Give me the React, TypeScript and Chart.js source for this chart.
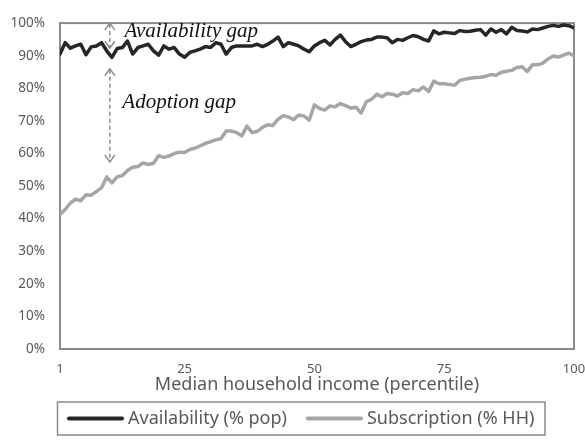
import React, { useEffect, useRef } from "react";
import { Chart, registerables } from "chart.js";

Chart.register(...registerables);

// ---- data ----
const percentiles = [
  1, 2, 3, 4, 5, 6, 7, 8, 9, 10, 11, 12, 13, 14, 15, 16, 17, 18, 19, 20,
  21, 22, 23, 24, 25, 26, 27, 28, 29, 30, 31, 32, 33, 34, 35, 36, 37, 38, 39, 40,
  41, 42, 43, 44, 45, 46, 47, 48, 49, 50, 51, 52, 53, 54, 55, 56, 57, 58, 59, 60,
  61, 62, 63, 64, 65, 66, 67, 68, 69, 70, 71, 72, 73, 74, 75, 76, 77, 78, 79, 80,
  81, 82, 83, 84, 85, 86, 87, 88, 89, 90, 91, 92, 93, 94, 95, 96, 97, 98, 99, 100,
];

const availability = [
  90.5, 94.0, 92.3, 93.0, 93.5, 90.3, 92.7, 93.0, 94.0, 91.5,
  89.5, 92.2, 92.5, 94.5, 90.5, 92.5, 93.0, 93.5, 91.5, 90.2,
  93.0, 92.0, 92.5, 90.5, 89.5, 91.0, 91.5, 92.0, 92.8, 92.5,
  94.0, 93.5, 90.5, 92.5, 93.0, 93.0, 93.0, 93.0, 93.5, 92.8,
  93.5, 94.5, 95.7, 92.8, 94.0, 93.5, 93.0, 92.0, 91.2, 93.0,
  94.0, 94.7, 93.3, 95.0, 96.3, 94.3, 92.8, 93.5, 94.3, 94.8,
  95.0, 95.7, 95.7, 95.5, 94.0, 95.0, 94.7, 95.5, 96.2, 95.8,
  95.0, 94.5, 97.6, 96.7, 97.2, 97.0, 96.8, 97.7, 97.4, 97.5,
  97.8, 98.0, 96.3, 98.2, 97.2, 98.0, 96.7, 98.7, 97.7, 97.6,
  97.3, 98.2, 98.0, 98.5, 99.0, 99.3, 99.0, 99.4, 99.2, 98.5,
];

const subscription = [
  41.3, 42.8, 44.8, 46.0, 45.5, 47.3, 47.2, 48.3, 49.5, 52.8,
  51.0, 52.8, 53.2, 54.8, 55.8, 56.0, 57.1, 56.6, 57.0, 59.3,
  58.8, 59.2, 60.0, 60.4, 60.3, 61.2, 61.6, 62.3, 63.1, 63.6,
  64.2, 64.5, 66.9, 66.9, 66.4, 65.4, 68.4, 66.4, 66.8, 68.0,
  68.8, 68.6, 70.5, 71.6, 71.2, 70.4, 71.8, 71.5, 70.2, 74.9,
  73.8, 73.3, 74.6, 74.3, 75.3, 74.7, 73.9, 74.2, 72.4, 75.9,
  76.6, 78.2, 77.4, 78.4, 78.2, 77.6, 78.6, 78.4, 79.6, 79.2,
  80.4, 79.0, 82.2, 81.4, 81.4, 81.2, 80.9, 82.4, 82.8, 83.1,
  83.3, 83.4, 83.7, 84.2, 84.0, 84.9, 85.2, 85.5, 86.4, 86.6,
  85.2, 87.2, 87.2, 87.7, 89.0, 89.9, 89.6, 90.2, 90.8, 89.9,
];

const seriesLabels = ["Availability (% pop)", "Subscription (% HH)"];
const seriesColors = ["#262626", "#a6a6a6"];
const xTickValues = [1, 25, 50, 75, 100];
const xTitle = "Median household income (percentile)";
const gapLabels = ["Availability gap", "Adoption gap"];

// annotation anchors in data units
const gapArrowX = 10.6;
const availabilityArrow = [100, 92.3];
const adoptionArrow = [86, 57.4];
const availabilityTextAt = { x: 13.4, y: 97.3 };
const adoptionTextAt = { x: 13.0, y: 75.6 };

const SANS = '"Noto Sans", "Open Sans", sans-serif';
const TEXT_GRAY = "#595959";
const FRAME_GRAY = "#8a8a8a";

const framePlugin = {
  id: "frame",
  beforeDatasetsDraw(chart: any) {
    const { ctx, chartArea: a } = chart;
    ctx.save();
    ctx.strokeStyle = FRAME_GRAY;
    ctx.lineWidth = 2;
    ctx.strokeRect(a.left, a.top, a.right - a.left, a.bottom - a.top);
    ctx.restore();
  },
};

function drawArrow(ctx: CanvasRenderingContext2D, x: number, y1: number, y2: number) {
  ctx.save();
  ctx.strokeStyle = "#8c8c8c";
  ctx.lineWidth = 1.5;
  ctx.setLineDash([4, 3]);
  ctx.beginPath();
  ctx.moveTo(x, y1 + 1);
  ctx.lineTo(x, y2 - 1);
  ctx.stroke();
  ctx.setLineDash([]);
  const hw = 5;
  const hl = 7;
  ctx.beginPath();
  ctx.moveTo(x - hw, y1 + hl);
  ctx.lineTo(x, y1);
  ctx.lineTo(x + hw, y1 + hl);
  ctx.moveTo(x - hw, y2 - hl);
  ctx.lineTo(x, y2);
  ctx.lineTo(x + hw, y2 - hl);
  ctx.stroke();
  ctx.restore();
}

const annotationPlugin = {
  id: "gaps",
  afterDatasetsDraw(chart: any) {
    const { ctx, scales } = chart;
    const xs = scales.x;
    const ys = scales.y;
    const ax = xs.getPixelForValue(gapArrowX);
    drawArrow(ctx, ax, ys.getPixelForValue(availabilityArrow[0]), ys.getPixelForValue(availabilityArrow[1]));
    drawArrow(ctx, ax, ys.getPixelForValue(adoptionArrow[0]), ys.getPixelForValue(adoptionArrow[1]));
    ctx.save();
    ctx.fillStyle = "#111111";
    ctx.font = 'italic 21px "Liberation Serif", "DejaVu Serif", serif';
    ctx.textAlign = "left";
    ctx.textBaseline = "middle";
    ctx.fillText(gapLabels[0], xs.getPixelForValue(availabilityTextAt.x), ys.getPixelForValue(availabilityTextAt.y));
    ctx.fillText(gapLabels[1], xs.getPixelForValue(adoptionTextAt.x), ys.getPixelForValue(adoptionTextAt.y));
    ctx.restore();
  },
};

const legendPlugin = {
  id: "boxedLegend",
  afterDraw(chart: any) {
    const { ctx } = chart;
    const ds = chart.data.datasets;
    const boxLeft = 57.5;
    const boxRight = 545;
    const boxTop = 402;
    const boxBottom = 435;
    const cy = (boxTop + boxBottom) / 2;
    ctx.save();
    ctx.strokeStyle = FRAME_GRAY;
    ctx.lineWidth = 1.5;
    ctx.strokeRect(boxLeft, boxTop, boxRight - boxLeft, boxBottom - boxTop);
    ctx.font = `18px ${SANS}`;
    ctx.textBaseline = "middle";
    ctx.textAlign = "left";
    let x = 69;
    ds.forEach((d: any) => {
      ctx.strokeStyle = d.borderColor;
      ctx.lineWidth = 4;
      ctx.lineCap = "round";
      ctx.beginPath();
      ctx.moveTo(x, cy);
      ctx.lineTo(x + 53, cy);
      ctx.stroke();
      ctx.fillStyle = TEXT_GRAY;
      ctx.fillText(d.label, x + 59, cy);
      x = x + 59 + ctx.measureText(d.label).width + 21;
    });
    ctx.restore();
  },
};

export default function App() {
  const ref = useRef<HTMLCanvasElement>(null);
  useEffect(() => {
    const canvas = ref.current;
    if (!canvas) return;
    const mk = (vals: number[]) => percentiles.map((p, i) => ({ x: p, y: vals[i] }));
    const chart = new Chart(canvas, {
      type: "line",
      data: {
        datasets: [
          {
            label: seriesLabels[0],
            data: mk(availability),
            borderColor: seriesColors[0],
            backgroundColor: seriesColors[0],
            borderWidth: 3.5,
            pointRadius: 0,
            tension: 0,
            borderJoinStyle: "round",
            borderCapStyle: "round",
          },
          {
            label: seriesLabels[1],
            data: mk(subscription),
            borderColor: seriesColors[1],
            backgroundColor: seriesColors[1],
            borderWidth: 3.5,
            pointRadius: 0,
            tension: 0,
            borderJoinStyle: "round",
            borderCapStyle: "round",
          },
        ],
      } as any,
      options: {
        responsive: false,
        animation: false,
        layout: { padding: { top: 17, right: 0, bottom: 0, left: 0 } },
        plugins: { legend: { display: false }, tooltip: { enabled: false } },
        scales: {
          x: {
            type: "linear",
            min: 1,
            max: 100,
            afterBuildTicks: (s: any) => {
              s.ticks = xTickValues.map((v) => ({ value: v }));
            },
            afterFit: (s: any) => {
              s.height = 97;
              s.paddingRight = 11;
              s.paddingLeft = 0;
            },
            grid: { display: false, drawTicks: false },
            border: { display: false },
            ticks: {
              autoSkip: false,
              maxRotation: 0,
              padding: 12,
              color: TEXT_GRAY,
              font: { family: SANS, size: 13 },
              callback: (v: any) => String(v),
            },
            title: {
              display: true,
              text: xTitle,
              color: TEXT_GRAY,
              font: { family: SANS, size: 18 },
              padding: { top: 0, bottom: 50 },
            },
          },
          y: {
            min: 0,
            max: 100,
            afterFit: (s: any) => {
              s.width = 60;
            },
            grid: { display: false, drawTicks: false },
            border: { display: false },
            ticks: {
              stepSize: 10,
              padding: 15,
              color: TEXT_GRAY,
              font: { family: SANS, size: 13.5 },
              callback: (v: any) => `${v}%`,
            },
          },
        },
      } as any,
      plugins: [framePlugin, annotationPlugin, legendPlugin],
    });
    return () => chart.destroy();
  }, []);
  return (
    <div style={{ position: "fixed", left: 0, top: 0, width: 585, height: 446, background: "#ffffff" }}>
      <canvas ref={ref} width={585} height={446} style={{ display: "block" }} />
    </div>
  );
}
